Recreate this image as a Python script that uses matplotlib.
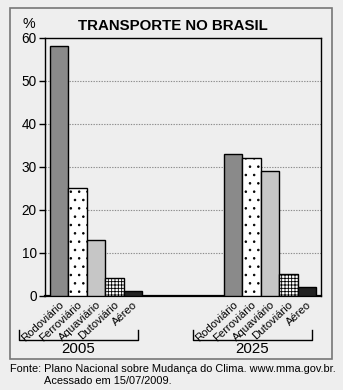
import matplotlib
matplotlib.use("Agg")
import matplotlib.pyplot as plt
from matplotlib.patches import Rectangle
from matplotlib.transforms import blended_transform_factory
import numpy as np

plt.rcParams['font.family'] = ['Liberation Sans', 'DejaVu Sans']
plt.rcParams['hatch.linewidth'] = 0.6

# Data: share of each transport mode (%)
years = ["2005", "2025"]
modes = ["Rodoviário", "Ferroviário", "Aquaviário", "Dutoviário", "Aéreo"]
share_2005 = [58, 25, 13, 4, 1]
share_2025 = [33, 32, 29, 5, 2]
y_ticks = [0, 10, 20, 30, 40, 50, 60]

mode_colors = ["#8a8a8a", "white", "#c6c6c6", "white", "#222222"]
mode_hatches = [None, "..", None, "+++++", None]

BG = "#eeeeee"
fig = plt.figure(figsize=(3.43, 3.90), dpi=100, facecolor=BG)
ax = fig.add_axes([45/343, 1 - 295.5/390, 276/343, 258/390])
ax.set_facecolor(BG)

group_starts = [0.0, 9.4]
all_x, all_labels = [], []
for start, vals in zip(group_starts, [share_2005, share_2025]):
    xs = start + np.arange(len(modes))
    for x, v, c, h in zip(xs, vals, mode_colors, mode_hatches):
        ax.bar(x, v, width=1.0, color=c, edgecolor="black", linewidth=1.0,
               hatch=h, zorder=3)
    all_x.extend(xs)
    all_labels.extend(modes)

ax.set_xlim(-0.75, 14.17)
ax.set_ylim(0, 60)
ax.set_yticks(y_ticks)
ax.tick_params(axis='y', direction='out', length=4, width=1, labelsize=9.8, pad=2)
ax.set_xticks(all_x)
ax.set_xticklabels(all_labels, rotation=43, ha='right', rotation_mode='anchor',
                   fontsize=8.1)
ax.tick_params(axis='x', length=0, pad=3)

for y in y_ticks[1:-1]:
    ax.axhline(y, color="#8c8c8c", linestyle=(0, (1.2, 1.2)), linewidth=0.8, zorder=1)

for side in ["left", "right", "top"]:
    ax.spines[side].set_linewidth(1.0)
ax.spines["bottom"].set_linewidth(1.6)

# Group brackets under the rotated labels
trans = blended_transform_factory(ax.transData, ax.transAxes)
for start, year in zip(group_starts, years):
    x0, x1 = start - 2.16, start + 4.28
    ax.plot([x0, x0, x1, x1], [-0.135, -0.172, -0.172, -0.135], color="black",
            linewidth=1.0, transform=trans, clip_on=False)
    ax.text((x0 + x1) / 2, -0.207, year, transform=trans, ha='center', va='center',
            fontsize=10.8)

fig.text(29/343, 1 - 24/390, "%", ha='center', va='center', fontsize=10.3)
fig.text(172.5/343, 1 - 25.5/390, "TRANSPORTE NO BRASIL", ha='center', va='center',
         fontsize=10.8, fontweight='bold')

fig.add_artist(Rectangle((9.5/343, 1 - 359/390), 322/343, 351/390,
                         transform=fig.transFigure, fill=False,
                         edgecolor="#777777", linewidth=1.2))

fig.text(10/343, 1 - 369/390, "Fonte: Plano Nacional sobre Mudança do Clima. www.mma.gov.br.",
         ha='left', va='center', fontsize=7.9)
fig.text(44/343, 1 - 380.5/390, "Acessado em 15/07/2009.", ha='left', va='center',
         fontsize=7.9)

fig.savefig("out.png", dpi=100, facecolor=BG)
